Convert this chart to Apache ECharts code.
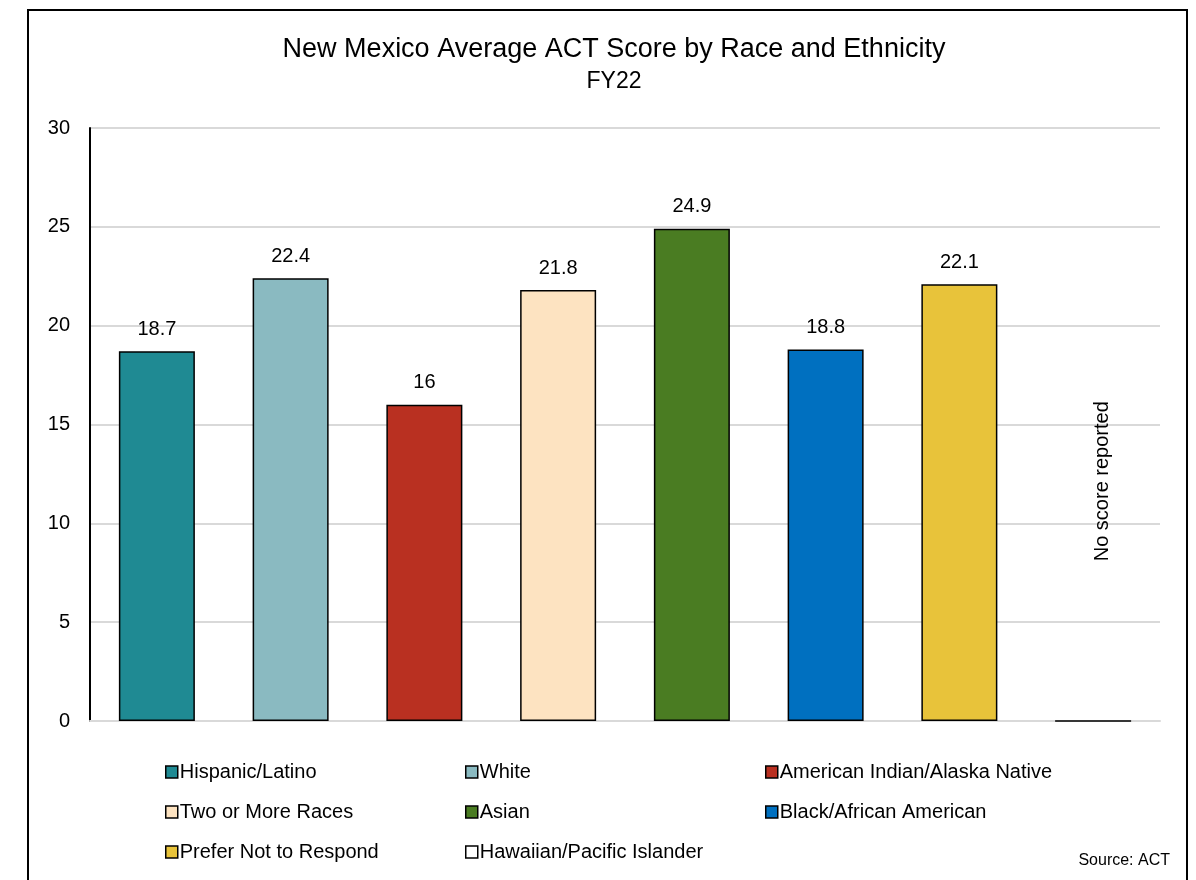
<!DOCTYPE html>
<html>
<head>
<meta charset="utf-8">
<script src="https://cdn.jsdelivr.net/npm/echarts@6/dist/echarts.min.js"></script>
<style>
  html, body { margin: 0; padding: 0; background: #fff; }
  #chart { width: 1196px; height: 880px; }
</style>
</head>
<body>
<div id="chart"></div>
<script>
const categories = [
  "Hispanic/Latino", "White", "American Indian/Alaska Native", "Two or More Races",
  "Asian", "Black/African American", "Prefer Not to Respond", "Hawaiian/Pacific Islander"
];
const scores = [18.7, 22.4, 16, 21.8, 24.9, 18.8, 22.1, 0];
const colors = ["#1F8A93", "#8ABAC1", "#B93021", "#FDE3C1", "#4A7C22", "#0070C0", "#E8C33A", "#FFFFFF"];
const yTicks = [0, 5, 10, 15, 20, 25, 30];
const noScoreText = "No score reported";

// legend columns, same as the picture (3 columns, read across rows)
const legendCols = [
  ["Hispanic/Latino", "Two or More Races", "Prefer Not to Respond"],
  ["White", "Asian", "Hawaiian/Pacific Islander"],
  ["American Indian/Alaska Native", "Black/African American"]
];
const legendLeft = [160, 460, 760];

const font = "'Liberation Sans', Arial, sans-serif";

let series = categories.map((name, i) => {
  let data = categories.map((c, j) => (j === i ? scores[i] : "-"));
  let empty = i === categories.length - 1;
  return {
    name: name,
    type: "bar",
    barWidth: 76,
    barGap: "-100%",
    itemStyle: { color: colors[i], borderColor: "#000", borderWidth: 1.5 },
    label: empty
      ? {
          show: true,
          position: "top",
          rotate: 90,
          align: "left",
          verticalAlign: "middle",
          distance: 159,
          offset: [0, 9],
          formatter: noScoreText,
          fontSize: 20,
          color: "#000",
          fontFamily: font
        }
      : {
          show: true,
          position: "top",
          distance: 12,
          fontSize: 20,
          color: "#000",
          fontFamily: font
        },
    data: data
  };
});

let legends = legendCols.map((col, k) => ({
  data: col,
  orient: "vertical",
  left: legendLeft[k],
  top: 757,
  itemGap: 20,
  itemWidth: 12,
  itemHeight: 12,
  icon: "rect",
  itemStyle: { borderColor: "#000", borderWidth: 1.5 },
  textStyle: { fontSize: 20, color: "#000", fontFamily: font, padding: [0, 0, 0, -3] },
  selectedMode: false
}));

let option = {
  backgroundColor: "#fff",
  animation: false,
  title: [
    {
      text: "New Mexico Average ACT Score by Race and Ethnicity",
      left: 609,
      top: 31,
      textAlign: "center",
      textStyle: { fontSize: 27, fontWeight: "normal", color: "#000", fontFamily: font }
    },
    {
      text: "FY22",
      left: 609,
      top: 65,
      textAlign: "center",
      textStyle: { fontSize: 23, fontWeight: "normal", color: "#000", fontFamily: font }
    },
    {
      text: "Source: ACT",
      right: 21,
      top: 848,
      textStyle: { fontSize: 16, fontWeight: "normal", color: "#000", fontFamily: font }
    }
  ],
  legend: legends,
  grid: { left: 90, right: 36, top: 128, bottom: 159, containLabel: false },
  xAxis: {
    type: "category",
    data: categories,
    axisLine: { show: true, lineStyle: { color: "#D9D9D9", width: 2 } },
    axisTick: { show: false },
    axisLabel: { show: false }
  },
  yAxis: {
    type: "value",
    min: yTicks[0],
    max: yTicks[yTicks.length - 1],
    interval: 5,
    axisLine: { show: true, lineStyle: { color: "#000", width: 2 } },
    axisTick: { show: false },
    axisLabel: { fontSize: 20, color: "#000", margin: 20, fontFamily: font },
    splitLine: { lineStyle: { color: "#D9D9D9", width: 2 } }
  },
  graphic: [
    {
      type: "rect",
      shape: { x: 28, y: 10, width: 1159, height: 900 },
      style: { fill: "none", stroke: "#000", lineWidth: 2 },
      silent: true
    }
  ],
  series: series
};

let chart = echarts.init(document.getElementById("chart"));
chart.setOption(option);
</script>
</body>
</html>
